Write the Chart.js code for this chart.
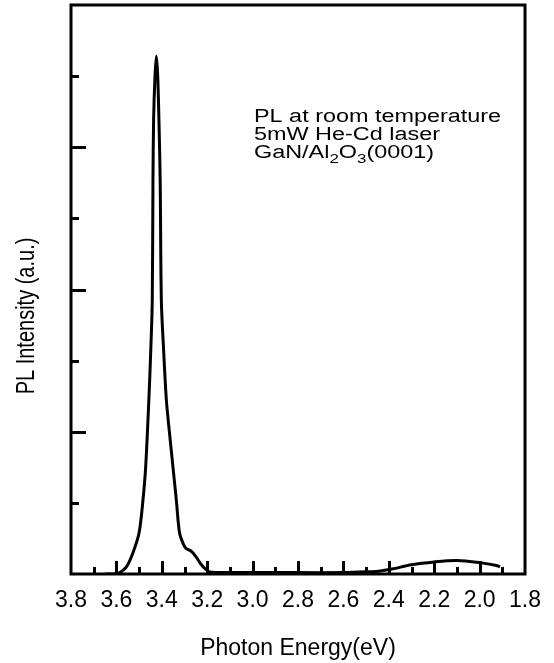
<!DOCTYPE html>
<html>
<head>
<meta charset="utf-8">
<script src="https://cdn.jsdelivr.net/npm/chart.js@4.4.1/dist/chart.umd.min.js"></script>
<style>
  html, body { margin: 0; padding: 0; background: #fff; }
  #wrap { width: 554px; height: 663px; }
</style>
</head>
<body>
<div id="wrap"><canvas id="plChart" width="554" height="663"></canvas></div>
<script>
// PL spectrum (photon energy in eV, intensity in a.u.)
const energy = [
  3.65, 3.60, 3.585, 3.556, 3.527, 3.500, 3.483, 3.471, 3.457, 3.448,
  3.442, 3.439, 3.436, 3.430, 3.424, 3.418, 3.412, 3.407, 3.402, 3.392,
  3.380, 3.366, 3.351, 3.336, 3.322, 3.305, 3.293, 3.270, 3.249, 3.228,
  3.205, 3.190, 3.10, 3.00, 2.80, 2.60, 2.50, 2.445, 2.386, 2.30,
  2.20, 2.10, 2.00, 1.926, 1.91
];
const intensity = [
  0.00, 0.00, 0.02, 0.10, 0.30, 0.58, 1.04, 1.51, 2.45, 3.20,
  3.85, 5.50, 6.40, 7.00, 7.28, 7.00, 6.30, 5.50, 3.85, 3.15,
  2.45, 1.98, 1.51, 1.04, 0.58, 0.42, 0.36, 0.32, 0.24, 0.14,
  0.06, 0.03, 0.02, 0.02, 0.02, 0.02, 0.03, 0.04, 0.07, 0.13,
  0.17, 0.19, 0.16, 0.12, 0.10
];

// axis ranges and tick positions
const xMin = 1.8, xMax = 3.8, xLabelStep = 0.2;
const xTicks = [3.7, 3.6, 3.5, 3.4, 3.3, 3.2, 3.1, 3.0, 2.9, 2.8, 2.7, 2.6, 2.5, 2.4, 2.3, 2.2, 2.1, 2.0, 1.9];
const yMin = 0, yMax = 8;
const yTicks = [1, 2, 3, 4, 5, 6, 7];

const xTitle = 'Photon Energy(eV)';
const yTitle = 'PL Intensity (a.u.)';
const noteLines = ['PL at room temperature', '5mW He-Cd laser'];

const FONT = '"Liberation Sans", Arial, sans-serif';

// frame, inward ticks and the text notes
const framePlugin = {
  id: 'framePlugin',
  afterDraw(chart) {
    const ctx = chart.ctx;
    const a = chart.chartArea;
    const xs = chart.scales.x, ys = chart.scales.y;
    ctx.save();
    ctx.strokeStyle = '#000';
    ctx.lineWidth = 3;
    ctx.strokeRect(a.left, a.top, a.right - a.left, a.bottom - a.top);

    xTicks.forEach(v => {
      const px = Math.round(xs.getPixelForValue(v)) + 0.5;
      const major = Math.round(v * 10) % 2 === 0;
      ctx.beginPath();
      ctx.moveTo(px, a.bottom);
      ctx.lineTo(px, a.bottom - (major ? 13 : 7));
      ctx.stroke();
    });
    yTicks.forEach(v => {
      const py = Math.round(ys.getPixelForValue(v)) + 0.5;
      const major = v % 2 === 0;
      ctx.beginPath();
      ctx.moveTo(a.left, py);
      ctx.lineTo(a.left + (major ? 15 : 8), py);
      ctx.stroke();
    });

    // y axis title, rotated
    ctx.fillStyle = '#000';
    ctx.font = '20px ' + FONT;
    ctx.textAlign = 'center';
    ctx.textBaseline = 'middle';
    ctx.save();
    ctx.translate(27, 316);
    ctx.scale(1.3, 1);
    ctx.rotate(-Math.PI / 2);
    ctx.fillText(yTitle, 0, 0);
    ctx.restore();

    // notes, stretched sideways like the scanned figure
    ctx.textAlign = 'left';
    ctx.textBaseline = 'alphabetic';
    ctx.save();
    ctx.translate(254, 0);
    ctx.scale(1.3, 1);
    ctx.font = '18px ' + FONT;
    ctx.fillText(noteLines[0], 0, 122);
    ctx.fillText(noteLines[1], 0, 140);
    let x = 0;
    const parts = [['GaN/Al', 0], ['2', 1], ['O', 0], ['3', 1], ['(0001)', 0]];
    parts.forEach(([t, sub]) => {
      ctx.font = (sub ? '13px ' : '18px ') + FONT;
      ctx.fillText(t, x, sub ? 163 : 158);
      x += ctx.measureText(t).width;
    });
    ctx.restore();
    ctx.restore();
  }
};

const points = energy.map((e, i) => ({ x: e, y: intensity[i] }));

new Chart(document.getElementById('plChart'), {
  type: 'line',
  data: {
    datasets: [{
      data: points,
      borderColor: '#000',
      borderWidth: 3,
      pointRadius: 0,
      tension: 0.3,
      fill: false
    }]
  },
  options: {
    responsive: false,
    animation: false,
    devicePixelRatio: 1,
    layout: { padding: { top: 5, right: 27, left: 0, bottom: 0 } },
    plugins: { legend: { display: false }, tooltip: { enabled: false } },
    scales: {
      x: {
        type: 'linear',
        reverse: true,
        min: xMin,
        max: xMax,
        border: { display: false },
        grid: { display: false, drawTicks: false },
        ticks: {
          stepSize: xLabelStep,
          padding: 13,
          color: '#000',
          font: { family: FONT, size: 23 },
          maxRotation: 0,
          autoSkip: false,
          callback: v => Number(v).toFixed(1)
        },
        title: {
          display: true,
          text: xTitle,
          color: '#000',
          font: { family: FONT, size: 23 },
          padding: { top: 0, bottom: 1 }
        },
        afterFit: s => { s.height = 89; }
      },
      y: {
        min: yMin,
        max: yMax,
        border: { display: false },
        grid: { display: false, drawTicks: false },
        ticks: { display: false },
        afterFit: s => { s.width = 71; }
      }
    }
  },
  plugins: [framePlugin]
});
</script>
</body>
</html>
